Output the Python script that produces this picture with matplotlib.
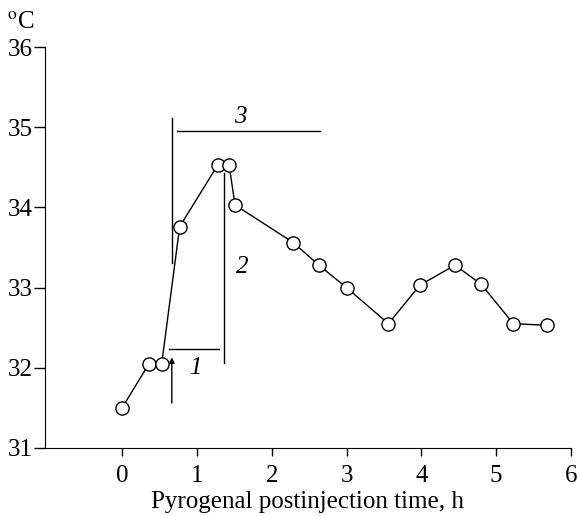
import numpy as np
import matplotlib
matplotlib.use("Agg")
import matplotlib.pyplot as plt

# datos
time_h = [0, 0.36, 0.53, 0.77, 1.28, 1.43, 1.51, 2.29, 2.63, 3.0, 3.56, 3.98, 4.45, 4.8, 5.23, 5.68]
temp_c = [31.5, 32.05, 32.05, 33.76, 34.53, 34.53, 34.03, 33.56, 33.28, 33.0, 32.55, 33.03, 33.28, 33.04, 32.55, 32.53]

x_ticks = [0, 1, 2, 3, 4, 5, 6]
y_ticks = [31, 32, 33, 34, 35, 36]

plt.rcParams['font.family'] = ['Liberation Serif', 'DejaVu Serif']
plt.rcParams['mathtext.fontset'] = 'stix'

fig = plt.figure(figsize=(5.79, 5.16), dpi=100)
ax = fig.add_axes([0.0777, 0.1318, 0.9085, 0.7771])

ax.plot(time_h, temp_c, color="black", lw=1.0, marker="o", markersize=9.5,
        markerfacecolor="white", markeredgecolor="black", markeredgewidth=1.0,
        zorder=3)

# marcas 1, 2, 3
lc = dict(color="black", lw=1.0)
ax.plot([0.665, 0.665], [33.31, 35.11], **lc)
ax.plot([0.735, 2.65], [34.95, 34.95], **lc)
ax.text(1.58, 35.13, "3", fontsize=18, style="italic", ha="center", va="center")
ax.plot([1.364, 1.364], [32.06, 34.43], **lc)
ax.text(1.52, 33.26, "2", fontsize=18, style="italic", ha="left", va="center")
ax.plot([0.63, 1.29], [32.23, 32.23], **lc)
ax.text(0.98, 32.0, "1", fontsize=18, style="italic", ha="center", va="center")
ax.annotate("", xy=(0.665, 32.13), xytext=(0.665, 31.56),
            arrowprops=dict(arrowstyle="-|>", color="black", lw=1.0,
                            mutation_scale=8, shrinkA=0, shrinkB=0))

ax.set_xlim(-1.03, 6)
ax.set_ylim(31, 36)
ax.set_xticks(x_ticks)
ax.set_yticks(y_ticks)
ax.spines["top"].set_visible(False)
ax.spines["right"].set_visible(False)
ax.tick_params(axis="x", direction="out", length=6, width=1, labelsize=18, pad=6)
ax.tick_params(axis="y", direction="out", length=8, width=1, labelsize=18, pad=1)
ax.set_xlabel("Pyrogenal postinjection time, h", fontsize=18, labelpad=3)

fig.text(0.012, 0.935, "$^{\\rm o}$C", fontsize=18, ha="left", va="bottom")

plt.savefig("out.png", dpi=100)
